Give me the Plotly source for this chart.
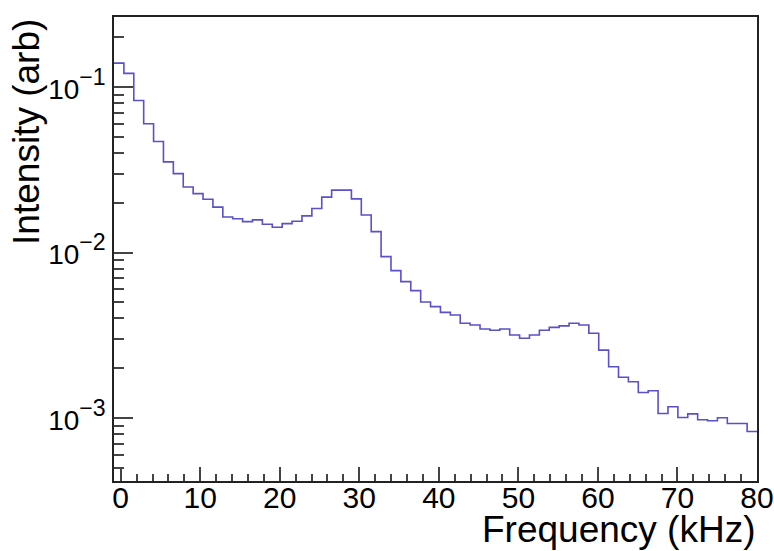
import numpy as np
import plotly.graph_objects as go

# Histogram definition (65 bins spanning the x range)
bin_low = -0.84
bin_high = 80.0
intensity = [
    0.1395, 0.121, 0.083, 0.060, 0.0469, 0.0353, 0.030, 0.0249, 0.0227, 0.0210,
    0.0188, 0.0164, 0.0160, 0.01538, 0.01574, 0.01482, 0.01422, 0.01495, 0.01546, 0.01665,
    0.01845, 0.02163, 0.02383, 0.02383, 0.0211, 0.01687, 0.01338, 0.00944, 0.00777, 0.00667,
    0.00588, 0.00502, 0.00471, 0.00435, 0.00419, 0.00374, 0.00365, 0.00345, 0.00339, 0.00345,
    0.003173, 0.00303, 0.003173, 0.00339, 0.00353, 0.00360, 0.00374, 0.00365, 0.00325, 0.00257,
    0.00204, 0.001762, 0.001657, 0.001425, 0.001461, 0.001064, 0.001170, 0.001006, 0.001059, 0.000975,
    0.000962, 0.001003, 0.000925, 0.000925, 0.000828,
]
x_tickvals = [0, 10, 20, 30, 40, 50, 60, 70, 80]
y_tickvals = [1e-3, 1e-2, 1e-1]
y_exponents = ["−3", "−2", "−1"]
y_ticktext = ['<span style="font-size:28px">10</span><sup>%s</sup>' % e for e in y_exponents]

nb = len(intensity)
edges = np.linspace(bin_low, bin_high, nb + 1)
xs = list(edges)
ys = list(intensity) + [intensity[-1]]

FONT = "Liberation Sans, Arial, Helvetica, sans-serif"
LINE_COLOR = "#5a50c8"

fig = go.Figure()
fig.add_trace(go.Scatter(
    x=xs, y=ys, mode="lines", line=dict(shape="hv", color=LINE_COLOR, width=1.6),
    showlegend=False, hoverinfo="skip",
))

fig.update_layout(
    width=774, height=551,
    margin=dict(l=114, r=17, t=17, b=70, autoexpand=False),
    paper_bgcolor="white", plot_bgcolor="white",
    font=dict(family=FONT, size=28, color="black"),
    xaxis=dict(
        range=[bin_low, bin_high], tickvals=x_tickvals, automargin=False,
        ticks="inside", ticklen=14, tickwidth=1.5, tickcolor="#444",
        minor=dict(ticks="inside", ticklen=7, tickwidth=1.5, tickcolor="#444", dtick=2, showgrid=False),
        showline=True, linecolor="#222", linewidth=1.5, mirror=True,
        showgrid=False, zeroline=False, ticklabelstandoff=-11,
        tickfont=dict(size=30, family=FONT),
    ),
    yaxis=dict(
        type="log", range=[-3.381, -0.5765], automargin=False,
        tickmode="array", tickvals=y_tickvals, ticktext=y_ticktext,
        ticks="inside", ticklen=19, tickwidth=1.5, tickcolor="#444",
        minor=dict(ticks="inside", ticklen=10, tickwidth=1.5, tickcolor="#444", dtick="D1", showgrid=False),
        showline=True, linecolor="#222", linewidth=1.5, mirror=True,
        showgrid=False, zeroline=False,
        tickfont=dict(size=33, family=FONT),
    ),
    annotations=[
        dict(text="Frequency (kHz)", xref="paper", yref="paper", x=1.0, y=-0.153,
             xanchor="right", yanchor="bottom", showarrow=False,
             font=dict(size=37, family=FONT, color="black")),
        dict(text="Intensity (arb)", xref="paper", yref="paper", x=-0.137, y=1.0,
             xanchor="center", yanchor="top", textangle=-90, showarrow=False,
             font=dict(size=37, family=FONT, color="black")),
    ],
)

fig.write_html("out.html")
